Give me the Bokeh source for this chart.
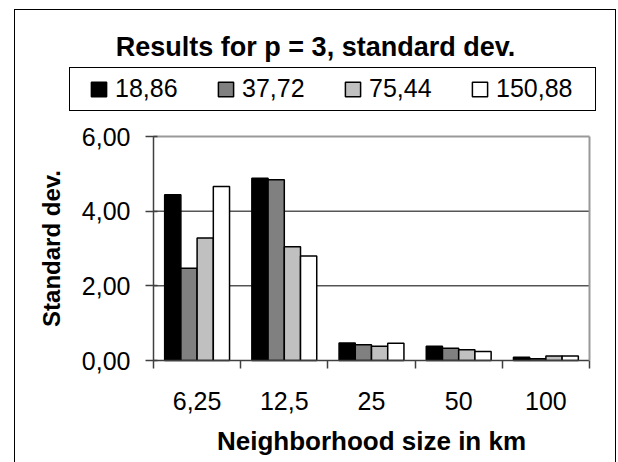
from bokeh.plotting import figure
from bokeh.models import Range1d, FixedTicker, Legend, LegendItem, LinearAxis, Label
from bokeh.embed import file_html
from bokeh.resources import INLINE
import numpy as np

# ---- data ----
categories = ["6,25", "12,5", "25", "50", "100"]
series_names = ["18,86", "37,72", "75,44", "150,88"]
s1 = [4.44, 4.88, 0.47, 0.38, 0.09]
s2 = [2.47, 4.84, 0.42, 0.33, 0.05]
s3 = [3.28, 3.05, 0.38, 0.29, 0.12]
s4 = [4.66, 2.80, 0.46, 0.24, 0.12]
series_values = [s1, s2, s3, s4]
y_ticks = [0, 2, 4, 6]
y_tick_labels = ["0,00", "2,00", "4,00", "6,00"]
title_text = "Results for p = 3, standard dev."
x_label = "Neighborhood size in km"
y_label = "Standard dev."

colors = ["#000000", "#808080", "#C0C0C0", "#FFFFFF"]
FONT = "Liberation Sans"
W, H = 618, 462
# plot-area placement on the canvas (pixels)
PL, PR, PT, PB = 153, 589, 136, 360
ncat = len(categories)
ymax = y_ticks[-1]
xpx = (PR - PL) / ncat
ypx = (PB - PT) / ymax

def line(x, y, w, h):
    return "linear-gradient(#000,#000) %dpx %dpx / %dpx %dpx no-repeat" % (x, y, w, h)

frame_css = ", ".join([
    line(14, 9, 1, 460), line(14, 9, 602, 1), line(615, 9, 1, 460),     # outer chart frame
    line(69, 67, 527, 1), line(69, 110, 527, 1), line(69, 67, 1, 44), line(595, 67, 1, 44),  # legend box
    "#ffffff",
])

p = figure(width=W, height=H,
           x_range=Range1d(-PL / xpx, ncat + (W - PR) / xpx),
           y_range=Range1d(-(H - PB) / ypx, ymax + PT / ypx),
           output_backend="svg", toolbar_location=None, min_border=0, title=None)
p.styles = {"background": frame_css}
p.background_fill_color = None
p.border_fill_color = None
p.outline_line_color = None
p.xgrid.visible = False
p.ygrid.visible = False

# horizontal gridlines inside the plot area (behind the bars)
grid_vals = y_ticks[1:-1]
p.segment(x0=[0] * len(grid_vals), x1=[ncat] * len(grid_vals), y0=grid_vals, y1=grid_vals,
          line_color="black", line_width=1)

centers = [i + 0.5 for i in range(ncat)]
bounds = list(range(ncat + 1))
bar_w = 0.186
offsets = (np.arange(len(series_names)) - (len(series_names) - 1) / 2) * bar_w

renderers = []
for k, vals in enumerate(series_values):
    xs = [c + offsets[k] for c in centers]
    r = p.vbar(x=xs, top=vals, bottom=0, width=bar_w, fill_color=colors[k],
               line_color="black", line_width=1.5)
    renderers.append(r)

# x axis
xa = p.xaxis[0]
xa.fixed_location = 0
xa.bounds = (0, ncat)
xa.ticker = FixedTicker(ticks=centers, minor_ticks=bounds)
xa.major_label_overrides = {c: lab for c, lab in zip(centers, categories)}
xa.major_tick_out = 0
xa.major_tick_in = 0
xa.minor_tick_out = 8
xa.minor_tick_in = 0
xa.minor_tick_line_color = "#404040"
xa.minor_tick_line_width = 1.5
xa.axis_line_color = "#404040"
xa.axis_line_width = 1.5
xa.major_label_standoff = 23
xa.major_label_text_font = FONT
xa.major_label_text_font_size = "25px"
xa.major_label_text_color = "black"
xa.axis_label = x_label
xa.axis_label_text_font = FONT
xa.axis_label_text_font_size = "26px"
xa.axis_label_text_font_style = "bold"
xa.axis_label_text_color = "black"
xa.axis_label_standoff = 13

# y axis
ya = p.yaxis[0]
ya.fixed_location = 0
ya.bounds = (0, ymax)
ya.ticker = FixedTicker(ticks=y_ticks)
ya.major_label_overrides = {t: lab for t, lab in zip(y_ticks, y_tick_labels)}
ya.major_tick_in = 4
ya.major_tick_out = 8
ya.major_tick_line_color = "#404040"
ya.major_tick_line_width = 1.5
ya.minor_tick_line_color = None
ya.axis_line_color = "#404040"
ya.axis_line_width = 1.5
ya.major_label_standoff = 15
ya.major_label_text_font = FONT
ya.major_label_text_font_size = "25px"
ya.major_label_text_color = "black"
ya.axis_label = y_label
ya.axis_label_text_font = FONT
ya.axis_label_text_font_size = "24px"
ya.axis_label_text_font_style = "bold"
ya.axis_label_text_color = "black"
ya.axis_label_standoff = 14

# gray plot-area border (top and right)
top_ax = LinearAxis(fixed_location=ymax, bounds=(0, ncat), ticker=FixedTicker(ticks=[]),
                    axis_line_color="#999999", axis_line_width=2,
                    major_tick_line_color=None, minor_tick_line_color=None)
p.add_layout(top_ax, "above")
right_ax = LinearAxis(fixed_location=ncat, bounds=(0, ymax), ticker=FixedTicker(ticks=[]),
                      axis_line_color="#999999", axis_line_width=2,
                      major_tick_line_color=None, minor_tick_line_color=None)
p.add_layout(right_ax, "right")

# legend (its box is drawn by the frame css)
legend = Legend(items=[LegendItem(label=n, renderers=[r]) for n, r in zip(series_names, renderers)],
                orientation="horizontal", location=(81, 351), padding=8, margin=0,
                spacing=38, glyph_width=19, glyph_height=18, label_standoff=7,
                label_width=63, label_height=28, label_text_font=FONT,
                label_text_font_size="25px", label_text_color="black",
                border_line_alpha=0, background_fill_alpha=0)
p.add_layout(legend)

title = Label(x=315, y=46, x_units="canvas", y_units="canvas", text=title_text,
              text_align="center", text_baseline="alphabetic", text_font=FONT,
              text_font_size="27px", text_font_style="bold", text_color="black")
p.add_layout(title)

open("out.html", "w").write(file_html(p, INLINE))
